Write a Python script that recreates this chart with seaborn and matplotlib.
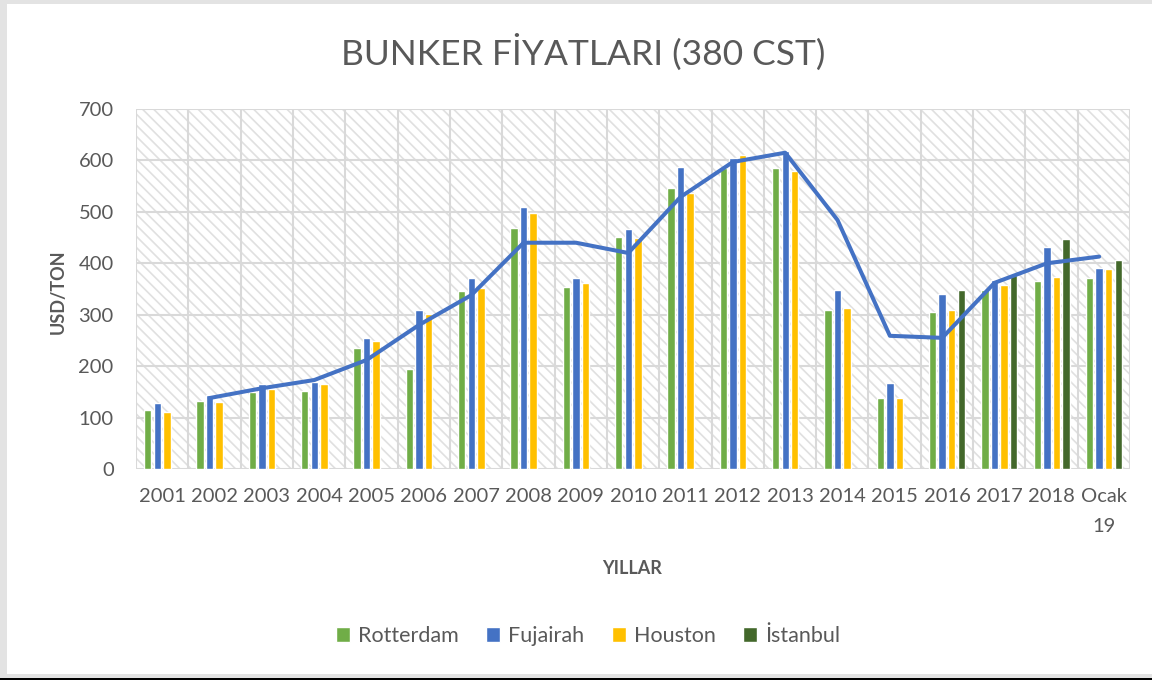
import matplotlib
matplotlib.use("Agg")
import matplotlib.pyplot as plt
from matplotlib.patches import Rectangle, Patch
import numpy as np
import pandas as pd
import seaborn as sns

# ── Data (USD/TON) ─────────────────────────────────────────────────────────
YEARS = ["2001", "2002", "2003", "2004", "2005", "2006", "2007", "2008", "2009",
         "2010", "2011", "2012", "2013", "2014", "2015", "2016", "2017", "2018",
         "Ocak\n19"]
ROTTERDAM = [115, 132, 150, 152, 235, 194, 346, 469, 354, 452, 547, 585, 585,
             309, 139, 306, 348, 366, 371]
FUJAIRAH = [128, 144, 165, 170, 255, 310, 372, 509, 372, 467, 588, 604, 619,
            349, 168, 340, 367, 432, 390]
HOUSTON = [111, 131, 155, 165, 248, 301, 351, 497, 361, 450, 537, 610, 580,
           314, 139, 309, 358, 373, 389]
ISTANBUL = [None] * 15 + [349, 377, 447, 406]
TREND = [None, 138, 157, 173, 212, 280, 338, 440, 440, 420, 529, 597, 615,
         484, 259, 255, 362, 400, 413]

SERIES = ["Rotterdam", "Fujairah", "Houston", "İstanbul"]
COLORS = ["#70AD47", "#4472C4", "#FFC000", "#43682B"]
TEXT = "#595959"
GRID = "#D9D9D9"

rows = []
for name, vals in zip(SERIES, [ROTTERDAM, FUJAIRAH, HOUSTON, ISTANBUL]):
    for yr, v in zip(YEARS, vals):
        if v is not None:
            rows.append({"Yil": yr, "Seri": name, "Deger": v})
df = pd.DataFrame(rows)

sns.set_theme(style="white")
plt.rcParams["font.family"] = ["Lato", "DejaVu Sans"]
plt.rcParams["hatch.linewidth"] = 1.2

fig = plt.figure(figsize=(11.52, 6.8), dpi=100)
ax = fig.add_axes([0.118, 0.3103, 0.863, 0.5294])

# hatched plot-area background
ax.add_patch(Rectangle((0, 0), 1, 1, transform=ax.transAxes, facecolor="white",
                       edgecolor="#E0E0E0", hatch="\\\\\\", lw=0, zorder=0))

WIDTH = 0.73
sns.barplot(data=df, x="Yil", y="Deger", hue="Seri", order=YEARS,
            hue_order=SERIES, palette=COLORS, width=WIDTH, gap=0.22,
            saturation=1, errorbar=None, legend=False, ax=ax, zorder=2)

# trend line sits on the Fujairah slot of each group
slot = WIDTH / len(SERIES)
xs = np.arange(len(YEARS)) - WIDTH / 2 + 1.5 * slot
line_df = pd.DataFrame({"x": xs, "y": TREND}).dropna()
sns.lineplot(data=line_df, x="x", y="y", color="#4472C4", lw=2.9, ax=ax,
             zorder=3)

ax.set_xlim(-0.5, len(YEARS) - 0.5)
ax.set_ylim(0, 700)
ax.set_yticks(range(0, 701, 100))
ax.set_xticks(range(len(YEARS)))
ax.set_xticklabels(YEARS, linespacing=1.9)

# gridlines: horizontal on ticks, vertical on category boundaries
for y in range(0, 701, 100):
    ax.axhline(y, color=GRID, lw=1.5, zorder=1)
for xb in np.arange(-0.5, len(YEARS), 1.0):
    ax.axvline(xb, color=GRID, lw=1.5, zorder=1)
for sp in ax.spines.values():
    sp.set_visible(False)

ax.tick_params(axis="both", length=0, colors=TEXT, labelsize=14.5)
ax.tick_params(axis="y", pad=16)
ax.tick_params(axis="x", pad=14)
ax.set_xlabel("")
ax.set_ylabel("")

fig.text(583 / 1152, 1 - 52 / 680, "BUNKER FİYATLARI (380 CST)", ha="center",
         va="center", fontsize=25.5, color=TEXT)
fig.text(58 / 1152, 1 - 292 / 680, "USD/TON", rotation=90, ha="center",
         va="center", fontsize=13, fontweight="bold", color=TEXT)
fig.text(632 / 1152, 1 - 568 / 680, "YILLAR", ha="center", va="center",
         fontsize=13, fontweight="bold", color=TEXT)

handles = [Patch(facecolor=c, label=s) for s, c in zip(SERIES, COLORS)]
fig.legend(handles=handles, loc="center", bbox_to_anchor=(588 / 1152, 1 - 636 / 680),
           ncol=4, frameon=False, fontsize=15.5, handlelength=0.65,
           handleheight=0.65, handletextpad=0.35, columnspacing=1.3,
           labelcolor=TEXT)

# outer chart frame
fig.add_artist(Rectangle((0, 1 - 4 / 680), 1, 4 / 680, transform=fig.transFigure,
                         facecolor="#E3E3E3", lw=0))
fig.add_artist(Rectangle((0, 0), 7 / 1152, 1, transform=fig.transFigure,
                         facecolor="#E3E3E3", lw=0))
fig.add_artist(Rectangle((0, 2 / 680), 1, 4 / 680, transform=fig.transFigure,
                         facecolor="#E3E3E3", lw=0))
fig.add_artist(Rectangle((0, 0), 1, 2 / 680, transform=fig.transFigure,
                         facecolor="black", lw=0))

fig.savefig("out.png", dpi=100)
